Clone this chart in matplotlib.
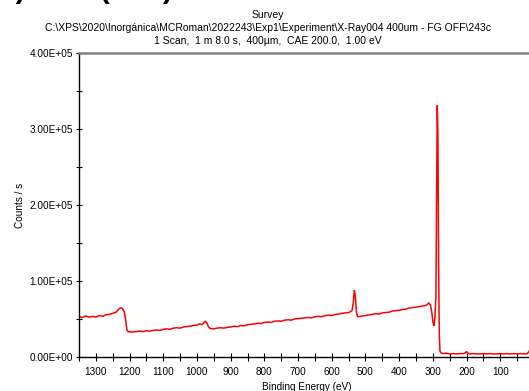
import matplotlib
matplotlib.use("Agg")
import matplotlib.pyplot as plt
from matplotlib.ticker import MultipleLocator, FuncFormatter

plt.rcParams['font.family'] = ['Liberation Sans', 'DejaVu Sans']

# Survey spectrum: binding energy (eV) and intensity (counts / s)
binding_energy = [
    1350, 1340, 1330, 1320, 1310, 1300, 1290, 1280, 1270, 1260, 1250, 1240,
    1234, 1228, 1222, 1216, 1212, 1208, 1204, 1200, 1195, 1190, 1180, 1170,
    1160, 1150, 1140, 1130, 1120, 1110, 1100, 1090, 1080, 1070, 1060, 1050,
    1040, 1030, 1020, 1010, 1000, 993, 986, 981, 976, 971, 966, 961, 950,
    940, 930, 920, 910, 900, 890, 880, 870, 860, 850, 840, 830, 820, 810,
    800, 790, 780, 770, 760, 750, 740, 730, 720, 710, 700, 690, 680, 670,
    660, 650, 640, 630, 620, 610, 600, 590, 580, 570, 560, 550, 545, 540,
    536, 533, 530, 527, 524, 520, 510, 500, 490, 480, 470, 460, 450, 440,
    430, 420, 410, 400, 390, 380, 370, 360, 350, 340, 330, 320, 312, 307,
    303, 300, 297, 294, 291, 289, 287, 285, 283, 281, 279, 276, 270, 260,
    250, 240, 230, 220, 210, 203, 200, 197, 190, 180, 170, 160, 150, 140,
    130, 120, 110, 100, 90, 80, 70, 60, 50, 40, 30, 20, 15, 12,
]
counts = [
    53000, 52000, 54000, 52500, 53500, 52500, 54500, 53500, 55500, 56000, 57500, 59000,
    62000, 64500, 64000, 60000, 50000, 36000, 33000, 33500, 32500, 33000, 33500, 34000,
    33500, 34500, 34000, 35000, 35500, 35000, 36500, 37000, 36500, 38000, 38500, 38000,
    39500, 40000, 40500, 41500, 42000, 43500, 42500, 44500, 47000, 45000, 40000, 37500, 37000,
    38000, 38500, 38000, 39000, 39500, 40500, 40000, 41500, 41000, 42500, 43000, 43500, 44500, 44000,
    45500, 46000, 45500, 47000, 47500, 47000, 48500, 49000, 48500, 50000, 50500, 51000, 51500, 52000,
    51500, 53000, 53500, 53000, 54500, 55000, 54500, 56000, 56500, 57500, 58000, 58500, 59500, 61000,
    72000, 88000, 80000, 60000, 53500, 53000, 54000, 54500, 55500, 56000, 57000, 56500, 58000, 58500,
    59000, 60500, 61000, 61500, 62500, 63000, 64500, 65000, 65500, 66500, 67000, 68000, 71000, 68000,
    58000, 46000, 41000, 52000, 80000, 200000, 331000, 290000, 120000, 30000, 8000, 5500, 4500, 5000,
    4000, 4500, 4000, 4500, 4500, 5500, 7500, 5000, 4000, 4500, 4000, 4000, 4500, 4000,
    4500, 4000, 4000, 4500, 4000, 4500, 4000, 4500, 4000, 4500, 4000, 4500, 7000, 10000,
]

header_lines = [
    "Survey",
    "C:\\XPS\\2020\\Inorgánica\\MCRoman\\2022243\\Exp1\\Experiment\\X-Ray004 400um - FG OFF\\243c",
    "1 Scan,  1 m 8.0 s,  400µm,  CAE 200.0,  1.00 eV",
]
panel_title = "b) XPS (C1s)"
x_label = "Binding Energy (eV)"
y_label = "Counts / s"

W, H = 529, 391
fig = plt.figure(figsize=(W / 100, H / 100), dpi=100)
ax = fig.add_axes([79 / W, 1 - 357 / H, (534 - 79) / W, (357 - 53) / H])

ax.plot(binding_energy, counts, color="#ff0000", lw=1.1, solid_joinstyle="miter")

ax.set_xlim(1350, 0)
ax.set_ylim(0, 4e5)

ax.xaxis.set_major_locator(MultipleLocator(100))
ax.xaxis.set_minor_locator(MultipleLocator(50))
ax.yaxis.set_major_locator(MultipleLocator(1e5))
ax.yaxis.set_minor_locator(MultipleLocator(5e4))

def sci_fmt(v, pos):
    m, e = f"{v:.2E}".split("E")
    return f"{m}E{e[0]}{int(e[1:]):02d}"

ax.yaxis.set_major_formatter(FuncFormatter(sci_fmt))
ax.xaxis.set_major_formatter(FuncFormatter(lambda v, p: "" if v <= 0 or v > 1300 else f"{int(v)}"))

ax.tick_params(which="both", direction="inout", length=5, width=0.8, color="black",
               labelsize=7.2, pad=2)
ax.tick_params(axis="x", which="both", length=6, pad=4)

for side in ("left", "bottom"):
    ax.spines[side].set_color("black")
    ax.spines[side].set_linewidth(1.0)
ax.spines["top"].set_color("#808080")
ax.spines["top"].set_linewidth(1.8)
ax.spines["right"].set_visible(False)

ax.set_xlabel(x_label, fontsize=7.2, labelpad=4)
ax.set_ylabel(y_label, fontsize=7.2, labelpad=3)

# header text block
header_y = [15.0, 28.0, 40.5]
for line, yp in zip(header_lines, header_y):
    fig.text(268 / W, 1 - yp / H, line, ha="center", va="center", fontsize=7.5)

fig.text(-2 / W, 1 + 2.5 / H, panel_title, ha="left", va="baseline",
         fontsize=21, fontweight="bold")

fig.savefig("out.png", dpi=100)
